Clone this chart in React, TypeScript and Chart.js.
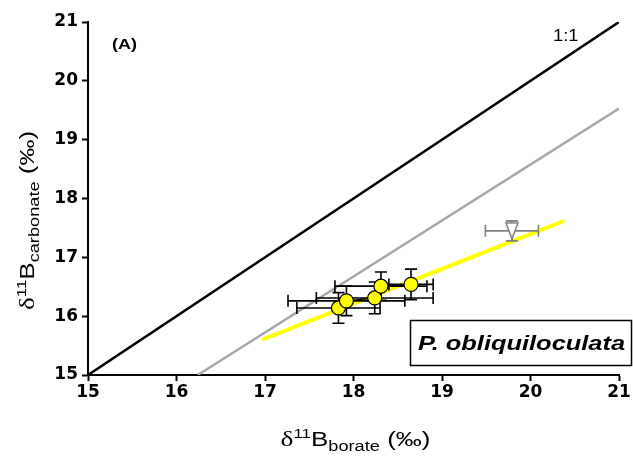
import React, { useEffect, useRef } from "react";
import { Chart, registerables } from "chart.js";

Chart.register(...registerables);

// Axis range and tick labels (both axes share the same range)
const axisMin = 15;
const axisMax = 21;
const tickValues = [15, 16, 17, 18, 19, 20, 21];

// Reference lines
const oneToOneX = [15, 21];
const oneToOneY = [15, 21];
const calibrationX = [16.24, 21];
const calibrationY = [15, 19.53];
const fitX = [16.97, 20.38];
const fitY = [15.6, 17.62];

// P. obliquiloculata samples
const sampleBorate = [17.83, 17.92, 18.24, 18.31, 18.65];
const sampleCarbonate = [16.14, 16.26, 16.31, 16.51, 16.54];
const sampleBorateErr = [0.47, 0.66, 0.66, 0.52, 0.25];
const sampleCarbonateErr = [0.26, 0.25, 0.27, 0.24, 0.26];

// Excluded sample
const outlierBorate = [19.79];
const outlierCarbonate = [17.45];
const outlierBorateErr = [0.3];
const outlierCarbonateErr = [0.17];

const SANS = "'Liberation Sans', Arial, sans-serif";
const SERIF = "'Liberation Serif', 'Times New Roman', serif";

const toPoints = (xs: number[], ys: number[]) => xs.map((x, i) => ({ x, y: ys[i] }));

type Seg = { t: string; font: string; dy: number };

function segWidth(ctx: CanvasRenderingContext2D, segs: Seg[]) {
  let w = 0;
  segs.forEach((s) => {
    ctx.font = s.font;
    w += ctx.measureText(s.t).width;
  });
  return w;
}

function drawRich(
  ctx: CanvasRenderingContext2D,
  segs: Seg[],
  x: number,
  y: number,
  sx: number,
  rotate: number,
  align: "left" | "center"
) {
  ctx.save();
  ctx.translate(x, y);
  ctx.rotate(rotate);
  ctx.scale(sx, 1);
  ctx.fillStyle = "#000";
  ctx.textAlign = "left";
  ctx.textBaseline = "alphabetic";
  const w = segWidth(ctx, segs);
  let cx = align === "center" ? -w / 2 : 0;
  segs.forEach((s) => {
    ctx.font = s.font;
    ctx.fillText(s.t, cx, s.dy);
    cx += ctx.measureText(s.t).width;
  });
  ctx.restore();
}

function titleSegs(sub: string): Seg[] {
  return [
    { t: "δ", font: `21px ${SERIF}`, dy: 0 },
    { t: "11", font: `13px ${SANS}`, dy: -8 },
    { t: "B", font: `20px ${SANS}`, dy: 0 },
    { t: sub, font: `14px ${SANS}`, dy: 5 },
    { t: " (‰)", font: `20px ${SANS}`, dy: 0 },
  ];
}

// Horizontal and vertical error bars for datasets that carry errX / errY
const errorBarPlugin = {
  id: "errorBars",
  beforeDatasetDraw(chart: any, args: any) {
    const ds = chart.data.datasets[args.index];
    if (!ds.errX) return;
    const { ctx } = chart;
    const xs = chart.scales.x;
    const ys = chart.scales.y;
    const cap = 6;
    ctx.save();
    ctx.strokeStyle = ds.errColor;
    ctx.lineWidth = 1.6;
    ds.data.forEach((p: { x: number; y: number }, i: number) => {
      const px = xs.getPixelForValue(p.x);
      const py = ys.getPixelForValue(p.y);
      const xl = xs.getPixelForValue(p.x - ds.errX[i]);
      const xr = xs.getPixelForValue(p.x + ds.errX[i]);
      const yt = ys.getPixelForValue(p.y + ds.errY[i]);
      const yb = ys.getPixelForValue(p.y - ds.errY[i]);
      ctx.beginPath();
      ctx.moveTo(xl, py);
      ctx.lineTo(xr, py);
      ctx.moveTo(xl, py - cap);
      ctx.lineTo(xl, py + cap);
      ctx.moveTo(xr, py - cap);
      ctx.lineTo(xr, py + cap);
      ctx.moveTo(px, yt);
      ctx.lineTo(px, yb);
      ctx.moveTo(px - cap, yt);
      ctx.lineTo(px + cap, yt);
      ctx.moveTo(px - cap, yb);
      ctx.lineTo(px + cap, yb);
      ctx.stroke();
    });
    ctx.restore();
  },
};

// Annotations and axis titles with sub/superscripts
const annotationPlugin = {
  id: "annotations",
  afterDraw(chart: any) {
    const { ctx, chartArea } = chart;
    const { left, right, top, bottom } = chartArea;

    drawRich(ctx, [{ t: "1:1", font: `16px ${SANS}`, dy: 0 }], right - 66, top + 19, 1.15, 0, "left");
    drawRich(ctx, [{ t: "(A)", font: `bold 15px ${SANS}`, dy: 0 }], left + 24, top + 27, 1.2, 0, "left");

    // species box
    ctx.save();
    ctx.strokeStyle = "#000";
    ctx.lineWidth = 1.5;
    ctx.strokeRect(410.5, 320.5, 221, 45);
    ctx.restore();
    drawRich(ctx, [{ t: "P. obliquiloculata", font: `italic bold 21px ${SANS}`, dy: 0 }], 418, 350, 1.21, 0, "left");

    // axis titles
    drawRich(ctx, titleSegs("borate"), (left + right) / 2 + 2, bottom + 71, 1.3, 0, "center");
    drawRich(ctx, titleSegs("carbonate"), 34, (top + bottom) / 2 + 22, 1.3, -Math.PI / 2, "center");
  },
};

function makeTriangle(): HTMLCanvasElement {
  const c = document.createElement("canvas");
  c.width = 16;
  c.height = 20;
  const g = c.getContext("2d")!;
  g.fillStyle = "#fff";
  g.strokeStyle = "#808080";
  g.lineWidth = 1.5;
  g.beginPath();
  g.moveTo(2, 2);
  g.lineTo(14, 2);
  g.lineTo(8, 18);
  g.closePath();
  g.fill();
  g.stroke();
  return c;
}

export default function App() {
  const canvasRef = useRef<HTMLCanvasElement | null>(null);

  useEffect(() => {
    if (!canvasRef.current) return;
    const axisCommon = {
      type: "linear" as const,
      min: axisMin,
      max: axisMax,
      afterBuildTicks: (s: any) => {
        s.ticks = tickValues.map((v) => ({ value: v }));
      },
      grid: {
        drawOnChartArea: false,
        drawTicks: true,
        tickLength: 6,
        tickWidth: 2,
        tickColor: "#000",
        color: "#000",
      },
      border: { display: true, color: "#000", width: 2 },
      ticks: {
        font: { family: "'DejaVu Sans', sans-serif", weight: "bold" as const, size: 17 },
        color: "#000",
        maxRotation: 0,
        autoSkip: false,
      },
    };

    const chart = new Chart(canvasRef.current, {
      type: "scatter",
      data: {
        datasets: [
          {
            label: "samples",
            data: toPoints(sampleBorate, sampleCarbonate),
            showLine: true,
            borderColor: "#000",
            borderWidth: 1.5,
            pointRadius: 7,
            pointBackgroundColor: "#ffff00",
            pointBorderColor: "#000",
            pointBorderWidth: 1.2,
            errX: sampleBorateErr,
            errY: sampleCarbonateErr,
            errColor: "#000",
            order: 1,
          } as any,
          {
            label: "excluded",
            data: toPoints(outlierBorate, outlierCarbonate),
            pointStyle: makeTriangle(),
            pointRadius: 8,
            errX: outlierBorateErr,
            errY: outlierCarbonateErr,
            errColor: "#808080",
            order: 2,
          } as any,
          {
            label: "fit",
            data: toPoints(fitX, fitY),
            showLine: true,
            borderColor: "#ffff00",
            borderWidth: 4,
            pointRadius: 0,
            order: 3,
          },
          {
            label: "calibration",
            data: toPoints(calibrationX, calibrationY),
            showLine: true,
            borderColor: "#a6a6a6",
            borderWidth: 2.5,
            pointRadius: 0,
            order: 4,
          },
          {
            label: "1:1",
            data: toPoints(oneToOneX, oneToOneY),
            showLine: true,
            borderColor: "#000",
            borderWidth: 2.5,
            pointRadius: 0,
            order: 5,
          },
        ],
      },
      options: {
        responsive: false,
        animation: false,
        layout: { padding: { top: 22, right: 14, left: 0, bottom: 0 } },
        plugins: {
          legend: { display: false },
          tooltip: { enabled: false },
        },
        scales: {
          x: {
            ...axisCommon,
            ticks: { ...axisCommon.ticks, padding: 1 },
            afterFit: (s: any) => {
              s.height = 81;
            },
          },
          y: {
            ...axisCommon,
            ticks: { ...axisCommon.ticks, padding: 4 },
            afterFit: (s: any) => {
              s.width = 88;
            },
          },
        } as any,
      },
      plugins: [errorBarPlugin, annotationPlugin],
    });
    return () => chart.destroy();
  }, []);

  return (
    <div style={{ position: "absolute", left: 0, top: 0, width: 633, height: 456, background: "#fff" }}>
      <canvas ref={canvasRef} width={633} height={456} style={{ display: "block" }} />
    </div>
  );
}
